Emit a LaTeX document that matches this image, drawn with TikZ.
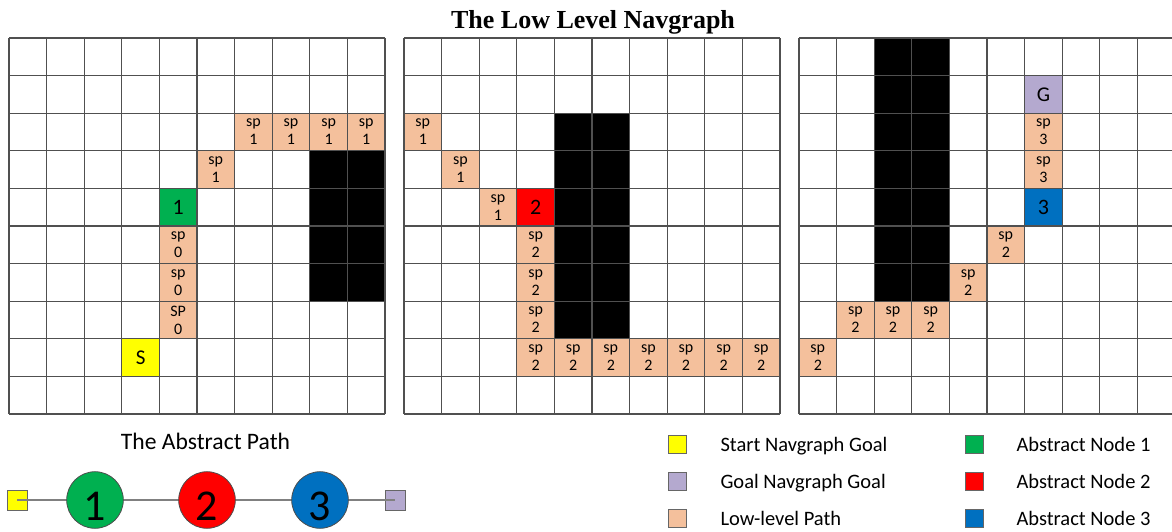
\documentclass[tikz,border=0pt]{standalone}
\usepackage{fontspec}
\setmainfont{Carlito}
\newfontfamily\titlefont{Liberation Serif}
\definecolor{peach}{HTML}{F4C09C}
\definecolor{lav}{HTML}{B4A9CF}
\definecolor{agreen}{HTML}{00B050}
\definecolor{ared}{HTML}{FF0000}
\definecolor{ablue}{HTML}{0070C0}
\definecolor{ayellow}{HTML}{FFFF00}
\definecolor{gline}{HTML}{505050}
\def\cs{37.6}
\def\gy{38}
\def\gxA{9}
\def\gxB{404}
\def\gxC{799}
\newcommand\cellat[5]{%
  \node[#4] (n#1-#2-#3) at ({\csname gx#1\endcsname+(#2+.5)*\cs},{\gy+(#3+.5)*\cs}) {#5};}
\newcommand\blockat[5]{%
  \fill[black] ({\csname gx#1\endcsname+#2*\cs},{\gy+#3*\cs}) rectangle ({\csname gx#1\endcsname+#4*\cs},{\gy+#5*\cs});}
\begin{document}
\begin{tikzpicture}[x=1pt,y=-1pt,
  cellbox/.style={minimum size=\cs pt,inner sep=0pt,outer sep=0pt,align=center},
  sp/.style={cellbox,fill=peach,font=\fontsize{16}{18}\selectfont},
  bignum/.style={cellbox,font=\fontsize{22}{24}\selectfont},
  gridline/.style={draw=gline,line width=1.2pt},
  legsq/.style={draw=gray!80!black,line width=0.6pt,minimum size=18pt,inner sep=0pt},
  legtext/.style={anchor=base west,font=\fontsize{20.5}{24}\selectfont},
  circ/.style={circle,draw=gray!60!black,line width=0.8pt,minimum size=56.6pt,inner sep=0pt},
  circnum/.style={font=\fontsize{44}{48}\selectfont,inner sep=0pt},
  absq/.style={draw=gray!80!black,line width=0.6pt,minimum size=20pt,inner sep=0pt},
  link/.style={draw=gray,line width=1.2pt}]
\useasboundingbox (0,0) rectangle (1172,531);
\fill[white] (0,0) rectangle (1172,531);
% title
\node[anchor=base,font=\titlefont\bfseries\fontsize{26}{30}\selectfont,inner sep=0pt] (title) at (593,28) {The Low Level Navgraph};
% obstacles
\blockat{A}{8}{3}{10}{7}
\blockat{B}{4}{2}{6}{8}
\blockat{C}{2}{0}{4}{7}
% grid 1
\foreach \c in {6,7,8,9} {\cellat{A}{\c}{2}{sp}{sp\\1}}
\cellat{A}{5}{3}{sp}{sp\\1}
\cellat{A}{4}{4}{bignum,fill=agreen}{1}
\cellat{A}{4}{5}{sp}{sp\\0}
\cellat{A}{4}{6}{sp}{sp\\0}
\cellat{A}{4}{7}{sp}{SP\\0}
\cellat{A}{3}{8}{bignum,fill=ayellow,font=\fontsize{21}{24}\selectfont}{S}
% grid 2
\cellat{B}{0}{2}{sp}{sp\\1}
\cellat{B}{1}{3}{sp}{sp\\1}
\cellat{B}{2}{4}{sp}{sp\\1}
\cellat{B}{3}{4}{bignum,fill=ared}{2}
\foreach \r in {5,6,7} {\cellat{B}{3}{\r}{sp}{sp\\2}}
\foreach \c in {3,...,9} {\cellat{B}{\c}{8}{sp}{sp\\2}}
% grid 3
\cellat{C}{6}{1}{bignum,fill=lav,font=\fontsize{21}{24}\selectfont}{G}
\cellat{C}{6}{2}{sp}{sp\\3}
\cellat{C}{6}{3}{sp}{sp\\3}
\cellat{C}{6}{4}{bignum,fill=ablue}{3}
\cellat{C}{5}{5}{sp}{sp\\2}
\cellat{C}{4}{6}{sp}{sp\\2}
\foreach \c in {1,2,3} {\cellat{C}{\c}{7}{sp}{sp\\2}}
\cellat{C}{0}{8}{sp}{sp\\2}
% grid lines
\foreach \g in {\gxA,\gxB,\gxC} {
  \foreach \i in {0,...,10} {
    \draw[gridline] ({\g+\i*\cs},\gy) -- ({\g+\i*\cs},{\gy+10*\cs});
    \draw[gridline] (\g,{\gy+\i*\cs}) -- ({\g+10*\cs},{\gy+\i*\cs});
  }
}
% abstract path
\node[anchor=base,font=\fontsize{23.6}{28}\selectfont,inner sep=0pt] (abst) at (205.5,449) {The Abstract Path};
\node[absq,fill=ayellow] (as) at (17,500) {};
\node[absq,fill=lav] (ag) at (395,500) {};
\draw[link] (as.center) -- (ag.center);
\node[circ,fill=agreen] (a1) at (95,500) {};
\node[circ,fill=ared] (a2) at (207,500) {};
\node[circ,fill=ablue] (a3) at (320,500) {};
\node[circnum] (a1n) at ([yshift=-6pt]a1.center) {1};
\node[circnum] (a2n) at ([yshift=-6pt]a2.center) {2};
\node[circnum] (a3n) at ([yshift=-6pt]a3.center) {3};
% legend
\node[legsq,fill=ayellow] (l1) at (677,444) {};
\node[legsq,fill=lav] (l2) at (677,481) {};
\node[legsq,fill=peach] (l3) at (677,518) {};
\node[legtext] (t1) at (717,451) {Start Navgraph Goal};
\node[legtext] (t2) at (717,488) {Goal Navgraph Goal};
\node[legtext] (t3) at (717,525) {Low-level Path};
\node[legsq,fill=agreen] (l4) at (974,444) {};
\node[legsq,fill=ared] (l5) at (974,481) {};
\node[legsq,fill=ablue] (l6) at (974,518) {};
\node[legtext] (t4) at (1013,451) {Abstract Node 1};
\node[legtext] (t5) at (1013,488) {Abstract Node 2};
\node[legtext] (t6) at (1013,525) {Abstract Node 3};
\end{tikzpicture}
\end{document}
